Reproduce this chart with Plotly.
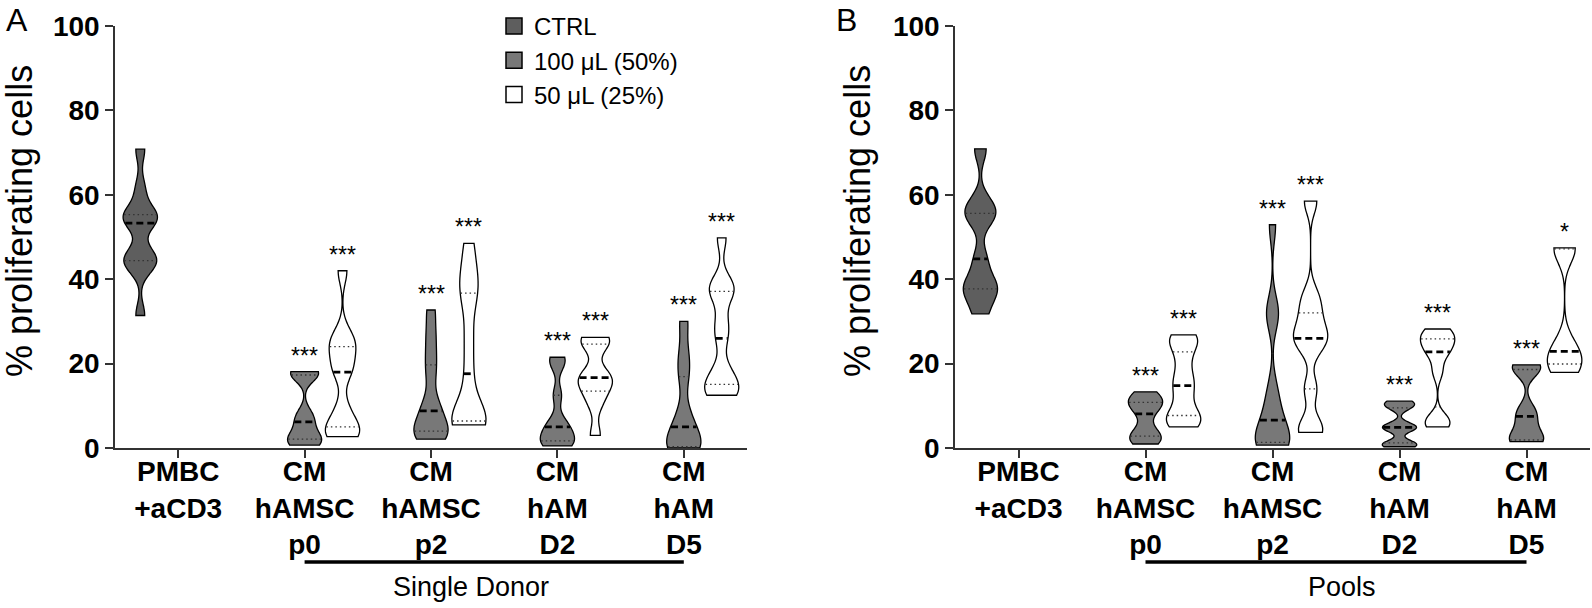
import numpy as np
import plotly.graph_objects as go
from plotly.subplots import make_subplots

# ---------------- data ----------------
categories = ["PMBC<br>+aCD3", "CM<br>hAMSC<br>p0", "CM<br>hAMSC<br>p2", "CM<br>hAM<br>D2", "CM<br>hAM<br>D5"]
series_names = ["CTRL", "100 \u03bcL (50%)", "50 \u03bcL (25%)"]
y_ticks = [0, 20, 40, 60, 80, 100]
y_title = "% proliferating cells"
group_labels = ["Single Donor", "Pools"]
panel_letters = ["A", "B"]

# Panel A - Single Donor
a_ctrl_pmbc = [31.4, 43.0, 44.0, 44.8, 46.0, 53.3, 54.5, 55.0, 55.6, 61.5, 70.8]
a_100_p0 = [0.7, 1.2, 2.1, 3.5, 6.2, 8.0, 17.3, 17.8, 18.1]
a_50_p0 = [2.7, 3.0, 4.5, 5.5, 9.5, 18.0, 19.5, 23.5, 24.5, 27.0, 42.0]
a_100_p2 = [2.1, 2.8, 3.6, 4.4, 6.5, 8.8, 11.0, 17.4, 22.0, 27.0, 32.7]
a_50_p2 = [5.5, 5.8, 6.2, 6.6, 9.5, 17.6, 26.0, 35.0, 38.4, 42.0, 48.5]
a_100_d2 = [0.5, 1.0, 1.7, 3.0, 5.0, 6.0, 12.5, 20.0, 21.5]
a_50_d2 = [3.0, 10.5, 13.5, 15.5, 16.7, 17.5, 24.6, 25.5, 26.2]
a_100_d5 = [0.0, 0.2, 0.3, 2.0, 5.0, 8.0, 16.9, 22.0, 30.0]
a_50_d5 = [12.5, 13.2, 14.0, 16.2, 18.5, 26.0, 30.0, 36.5, 37.7, 39.0, 49.8]
a_sig_100 = ["***", "***", "***", "***"]
a_sig_50 = ["***", "***", "***", "***"]

# Panel B - Pools
b_ctrl_pmbc = [31.8, 36.5, 37.7, 39.5, 44.8, 54.5, 55.6, 58.0, 70.9]
b_100_p0 = [0.95, 2.0, 2.8, 4.5, 8.1, 10.0, 10.8, 11.8, 13.3]
b_50_p0 = [5.0, 6.0, 7.2, 8.2, 12.0, 14.8, 17.0, 21.0, 24.6, 25.8, 26.8]
b_100_p2 = [0.7, 1.0, 1.2, 1.5, 3.5, 6.6, 9.5, 14.0, 30.8, 33.0, 52.9]
b_50_p2 = [3.7, 5.0, 14.0, 24.0, 26.0, 28.0, 32.0, 36.0, 58.5]
b_100_d2 = [0.3, 0.8, 1.2, 4.4, 4.9, 5.4, 9.5, 10.4, 11.1]
b_50_d2 = [5.0, 6.0, 7.0, 18.0, 22.0, 23.6, 24.8, 26.2, 27.2, 28.2]
b_100_d5 = [1.5, 1.7, 1.9, 4.5, 7.5, 9.0, 18.6, 19.1, 19.7]
b_50_d5 = [17.9, 19.0, 19.9, 21.5, 22.9, 25.0, 47.2, 47.3, 47.4]
b_sig_100 = ["***", "***", "***", "***"]
b_sig_50 = ["***", "***", "***", "*"]

# ---------------- style ----------------
FONT = "Liberation Sans, Arial, Helvetica, sans-serif"
fill_colors = ["#5e5e5e", "#787878", "#ffffff"]
offsets = [-0.3, 0.0, 0.3]
VW = 0.27  # violin width in category units

# kernel bandwidths (smoothing) per violin: [ctrl], [100 x4], [50 x4]
a_bw = {"ctrl": [2.8], "100": [2.0, 3.0, 2.2, 3.5], "50": [3.0, 4.5, 2.5, 3.0]}
b_bw = {"ctrl": [3.0], "100": [1.8, 4.0, 1.0, 2.2], "50": [2.5, 3.0, 2.0, 3.5]}

panels = [
    dict(ctrl=[a_ctrl_pmbc], s100=[a_100_p0, a_100_p2, a_100_d2, a_100_d5],
         s50=[a_50_p0, a_50_p2, a_50_d2, a_50_d5], sig100=a_sig_100, sig50=a_sig_50, bw=a_bw),
    dict(ctrl=[b_ctrl_pmbc], s100=[b_100_p0, b_100_p2, b_100_d2, b_100_d5],
         s50=[b_50_p0, b_50_p2, b_50_d2, b_50_d5], sig100=b_sig_100, sig50=b_sig_50, bw=b_bw),
]


def kde_tools(vals, bw):
    v = np.asarray(vals, float)
    lo, hi = v.min(), v.max()
    n = int(np.ceil((hi - lo) / (bw / 3.0)))
    step = (hi - lo) / n
    grid = lo + step * np.arange(n + 1)

    def dens(y):
        y = np.atleast_1d(np.asarray(y, float))
        return np.exp(-0.5 * ((y[:, None] - v[None, :]) / bw) ** 2).sum(axis=1)

    return dens, dens(grid).max()


W, H = 1592, 608
AX_BOTTOM = 448          # page row of the x axis
AX_TOP = 26              # page row of y = 100
TOP = AX_TOP
BOT = H - AX_BOTTOM
PH = AX_BOTTOM - AX_TOP


def px_x(px):
    return px / W


def px_y(px):
    return (AX_BOTTOM - px) / PH


fig = make_subplots(rows=1, cols=2)
fig.update_layout(
    xaxis=dict(domain=[px_x(115), px_x(747)]),
    xaxis2=dict(domain=[px_x(955), px_x(1590)]),
)

annotations = []

# legend entries (square swatches)
for s, name in enumerate(series_names):
    fig.add_trace(go.Scatter(
        x=[None], y=[None], mode="markers", name=name, legendgroup=name,
        marker=dict(symbol="square", size=18, color=fill_colors[s],
                    line=dict(color="black", width=1.5)),
        showlegend=True, hoverinfo="skip"), row=1, col=1)

for pi, P in enumerate(panels):
    col = pi + 1
    xref = "x" if pi == 0 else "x2"
    yref = "y" if pi == 0 else "y2"
    entries = [(0, 0, P["ctrl"][0], P["bw"]["ctrl"][0], None)]
    for ci in range(4):
        entries.append((1, ci + 1, P["s100"][ci], P["bw"]["100"][ci], P["sig100"][ci]))
        entries.append((2, ci + 1, P["s50"][ci], P["bw"]["50"][ci], P["sig50"][ci]))
    for s, cat, vals, bw, sig in entries:
        pos = cat + offsets[s]
        fig.add_trace(go.Violin(
            x=[pos] * len(vals), y=vals, width=VW, bandwidth=bw, spanmode="hard",
            scalemode="width", points=False, fillcolor=fill_colors[s],
            line=dict(color="black", width=1.3), name=series_names[s],
            legendgroup=series_names[s], showlegend=False, hoverinfo="y",
        ), row=1, col=col)
        dens, mx = kde_tools(vals, bw)
        q1, med, q3 = np.percentile(vals, [25, 50, 75])
        for q, dash, lw, colr in [(q1, "1.5px,3px", 1.3, "#333333"),
                                   (q3, "1.5px,3px", 1.3, "#333333"),
                                   (med, "7px,4px", 2.8, "black")]:
            hw = VW / 2 * dens(q)[0] / mx * 0.96
            fig.add_trace(go.Scatter(
                x=[pos - hw, pos + hw], y=[q, q], mode="lines",
                line=dict(color=colr, width=lw, dash=dash),
                showlegend=False, hoverinfo="skip"), row=1, col=col)
        if sig:
            annotations.append(dict(
                x=pos, y=max(vals), xref=xref, yref=yref, text=sig, showarrow=False,
                yanchor="bottom", yshift=1, font=dict(size=23, color="black", family=FONT)))

axis_common = dict(showline=True, linecolor="#333333", linewidth=1.6, ticks="outside",
                   ticklen=8, tickwidth=1.6, tickcolor="#333333", showgrid=False,
                   zeroline=False, automargin=False)
for col in (1, 2):
    fig.update_xaxes(range=[-0.5, 4.5], tickmode="array", tickvals=list(range(5)),
                     ticktext=categories, ticklabelstandoff=-10,
                     tickfont=dict(size=28, family=FONT, color="black", weight="bold"),
                     row=1, col=col, **axis_common)
    fig.update_yaxes(range=[0, 100], tickmode="array", tickvals=y_ticks,
                     ticktext=[str(t) for t in y_ticks],
                     tickfont=dict(size=28, family=FONT, color="black", weight="bold"),
                     row=1, col=col, **axis_common)

group_y = px_y(562)
label_y = px_y(587)
shapes = []
for xr in ("x", "x2"):
    shapes.append(dict(type="line", xref=xr, yref="paper", x0=1, x1=4, y0=group_y, y1=group_y,
                       line=dict(color="black", width=3.5)))
annotations += [
    dict(x=2.32, y=label_y, xref="x", yref="paper", text=group_labels[0], showarrow=False,
         yanchor="middle", font=dict(size=27, family=FONT, color="black")),
    dict(x=2.55, y=label_y, xref="x2", yref="paper", text=group_labels[1], showarrow=False,
         yanchor="middle", font=dict(size=27, family=FONT, color="black")),
    dict(x=px_x(4), y=px_y(0), xref="paper", yref="paper", text=panel_letters[0],
         showarrow=False, xanchor="left", yanchor="top",
         font=dict(size=32, family=FONT, color="black")),
    dict(x=px_x(834), y=px_y(0), xref="paper", yref="paper", text=panel_letters[1],
         showarrow=False, xanchor="left", yanchor="top",
         font=dict(size=32, family=FONT, color="black")),
    dict(x=px_x(19), y=px_y(221), xref="paper", yref="paper", text=y_title, textangle=-90,
         showarrow=False, xanchor="center", yanchor="middle",
         font=dict(size=36, family=FONT, color="black")),
    dict(x=px_x(857), y=px_y(221), xref="paper", yref="paper", text=y_title, textangle=-90,
         showarrow=False, xanchor="center", yanchor="middle",
         font=dict(size=36, family=FONT, color="black")),
]

fig.update_layout(
    width=W, height=H, margin=dict(l=0, r=0, t=TOP, b=BOT, autoexpand=False),
    paper_bgcolor="white", plot_bgcolor="white", violinmode="overlay",
    font=dict(family=FONT, color="black"),
    showlegend=True,
    legend=dict(x=px_x(494), y=px_y(4), xanchor="left", yanchor="top",
                font=dict(size=24, family=FONT, color="black"),
                bgcolor="rgba(0,0,0,0)", tracegroupgap=0, itemwidth=30),
    shapes=shapes, annotations=annotations,
)

# remove the default page margin so the figure sits at the window's top-left corner
fig.write_html("out.html", config={"displayModeBar": False},
               post_script="document.body.style.margin='0px';")
